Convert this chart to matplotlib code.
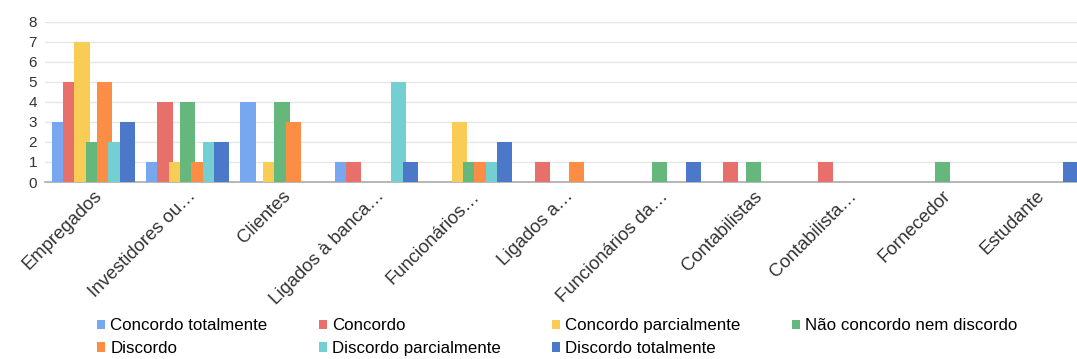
import matplotlib
matplotlib.use("Agg")
import matplotlib.pyplot as plt
import numpy as np

plt.rcParams['font.family'] = ['Liberation Sans', 'DejaVu Sans']

categories = ["Empregados", "Investidores ou…", "Clientes", "Ligados à banca…",
              "Funcionários…", "Ligados a…", "Funcionários da…", "Contabilistas",
              "Contabilista…", "Fornecedor", "Estudante"]

series_names = ["Concordo totalmente", "Concordo", "Concordo parcialmente",
                "Não concordo nem discordo", "Discordo", "Discordo parcialmente",
                "Discordo totalmente"]

concordo_totalmente   = [3, 1, 4, 1, 0, 0, 0, 0, 0, 0, 0]
concordo              = [5, 4, 0, 1, 0, 1, 0, 1, 1, 0, 0]
concordo_parcialmente = [7, 1, 1, 0, 3, 0, 0, 0, 0, 0, 0]
nao_concordo_nem      = [2, 4, 4, 0, 1, 0, 1, 1, 0, 1, 0]
discordo              = [5, 1, 3, 0, 1, 1, 0, 0, 0, 0, 0]
discordo_parcialmente = [2, 2, 0, 5, 1, 0, 0, 0, 0, 0, 0]
discordo_totalmente   = [3, 2, 0, 1, 2, 0, 1, 0, 0, 0, 1]

series_values = [concordo_totalmente, concordo, concordo_parcialmente,
                 nao_concordo_nem, discordo, discordo_parcialmente,
                 discordo_totalmente]

colors = ["#76a7ef", "#e8706b", "#f8cc55", "#65b77b", "#fc8d45", "#74cfd3", "#4b78c9"]

fig = plt.figure(figsize=(10.77, 3.59), dpi=100)
ax = fig.add_axes([0.042, 0.493, 0.958, 0.446])

x = np.arange(len(categories))
step = 0.12
width = 0.16
for i, (name, vals, c) in enumerate(zip(series_names, series_values, colors)):
    ax.bar(x + (i - 3) * step, vals, width=width, color=c, label=name, zorder=3)

ax.set_ylim(0, 8)
ax.set_yticks(range(0, 9))
ax.set_xlim(-0.51, 10.43)
ax.grid(axis='y', color='#e6e6e6', linewidth=1, zorder=0)
for s in ['top', 'right', 'left']:
    ax.spines[s].set_visible(False)
ax.spines['bottom'].set_color('#aaaaaa')
ax.spines['bottom'].set_linewidth(1.2)
ax.tick_params(axis='both', length=0, labelsize=11, colors='#333333')
ax.tick_params(axis='y', pad=6)
ax.tick_params(axis='x', pad=4)
ax.set_xticks(x)
ax.set_xticklabels(categories, rotation=45, ha='right', rotation_mode='anchor',
                   fontsize=13.3)

handles, labels = ax.get_legend_handles_labels()
order = [0, 4, 1, 5, 2, 6, 3]
fig.legend([handles[k] for k in order], [labels[k] for k in order], ncol=4,
           loc='upper left', bbox_to_anchor=(0.09, 0.113),
           frameon=False, fontsize=12.2, handlelength=0.5, handleheight=0.5,
           handletextpad=0.3, columnspacing=3.0, labelspacing=0.45,
           borderaxespad=0, borderpad=0)

fig.savefig("out.png", dpi=100)
